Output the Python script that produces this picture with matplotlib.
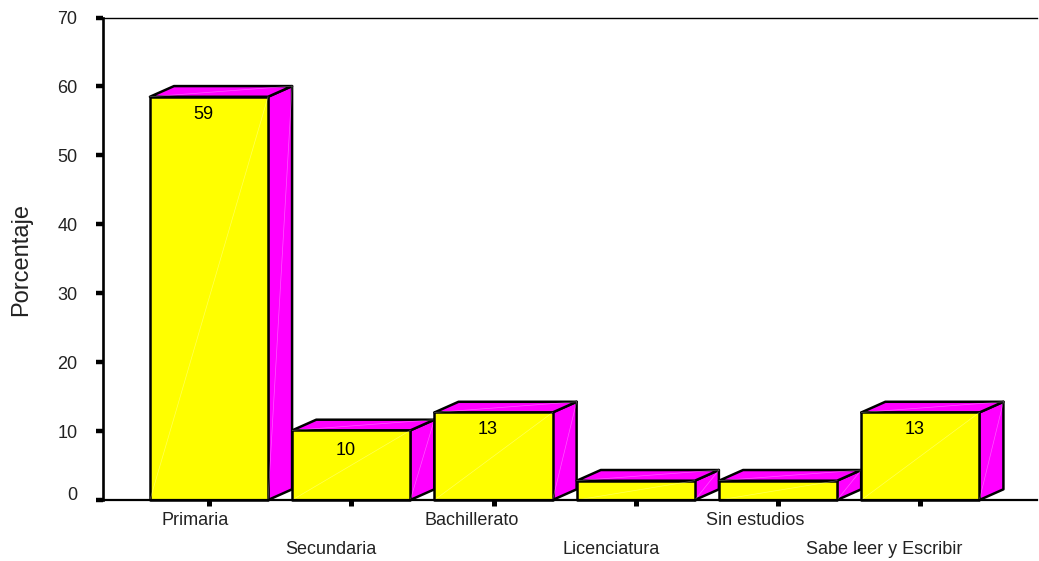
import matplotlib
matplotlib.use('Agg')
import matplotlib.pyplot as plt
from matplotlib.patches import Polygon
from matplotlib.transforms import ScaledTranslation

plt.rcParams['font.family'] = ['Liberation Sans', 'DejaVu Sans']

categorias = ['Primaria', 'Secundaria', 'Bachillerato', 'Licenciatura', 'Sin estudios', 'Sabe leer y Escribir']
porcentaje = [58.5, 10.1, 12.7, 2.8, 2.8, 12.7]
yticks = [0, 10, 20, 30, 40, 50, 60, 70]

# aspecto de las barras
ancho = 0.83
prof_x = 0.169
prof_y = 1.55
amarillo = '#ffff00'
magenta = '#ff00ff'

# desplazamiento de cada etiqueta del eje x, en pixeles
desp_x = [-47, -66, -69, -73, -72, -114]
desp_y = [0, -29, 0, -29, 0, -29]
# distancia del valor a la parte alta de su barra, en pixeles
desp_valor = [-18, -20, -17.5, 0, 0, -17.5]

fig = plt.figure(figsize=(10.39, 5.61), dpi=100)
ax = fig.add_axes([103 / 1039, 61 / 561, 934 / 1039, 482.5 / 561])
ax.set_xlim(-0.745, 5.82)
ax.set_ylim(0, 70)

for i, v in enumerate(porcentaje):
    x0 = i - ancho / 2
    x1 = i + ancho / 2
    frente = [(x0, 0), (x1, 0), (x1, v), (x0, v)]
    lado = [(x1, 0), (x1 + prof_x, prof_y), (x1 + prof_x, v + prof_y), (x1, v)]
    tapa = [(x0, v), (x1, v), (x1 + prof_x, v + prof_y), (x0 + prof_x, v + prof_y)]
    for puntos, color in [(lado, magenta), (tapa, magenta), (frente, amarillo)]:
        ax.add_patch(Polygon(puntos, closed=True, facecolor=color, edgecolor='black',
                             linewidth=1.8, joinstyle='round', clip_on=False, zorder=3 + i))
    # lineas claras en diagonal sobre las caras
    ax.plot([x0, x1], [0, v], color='white', lw=0.5, alpha=0.35, zorder=3 + i)
    ax.plot([x1, x1 + prof_x], [0, v + prof_y], color='white', lw=0.5, alpha=0.35, zorder=3 + i)
    ax.plot([x0, x1 + prof_x], [v, v + prof_y], color='white', lw=0.5, alpha=0.35, zorder=3 + i)
    if v >= 5:
        ax.annotate(f'{v + 0.01:.0f}', (i, v), xytext=(-5.5 * 0.72, desp_valor[i] * 0.72), textcoords='offset points',
                    ha='center', va='center', fontsize=13, color='black', zorder=20)

ax.spines['right'].set_visible(False)
ax.spines['left'].set_linewidth(1.9)
ax.spines['bottom'].set_linewidth(1.6)
ax.spines['bottom'].set_zorder(30)
ax.spines['top'].set_linewidth(1.0)

ax.set_yticks(yticks)
ax.set_yticklabels([str(t) for t in yticks])
ax.set_xticks(range(len(categorias)))
ax.set_xticklabels(categorias, ha='left')
ax.tick_params(axis='y', length=5, width=3.2, pad=13.5, labelsize=13, labelcolor='#222222')
ax.tick_params(axis='x', length=4, width=3.6, pad=4.5, labelsize=13, labelcolor='#222222')

for etiqueta, dx, dy in zip(ax.get_xticklabels(), desp_x, desp_y):
    etiqueta.set_transform(etiqueta.get_transform() + ScaledTranslation(dx / 100, dy / 100, fig.dpi_scale_trans))

# el cero va algo por encima de su marca
cero = ax.get_yticklabels()[0]
cero.set_transform(cero.get_transform() + ScaledTranslation(0, 7 / 100, fig.dpi_scale_trans))

fig.text(21.5 / 1039, 1 - 259.5 / 561, 'Porcentaje', rotation=90, ha='center', va='center',
         fontsize=17, color='#222222')

fig.savefig('out.png', dpi=100)
